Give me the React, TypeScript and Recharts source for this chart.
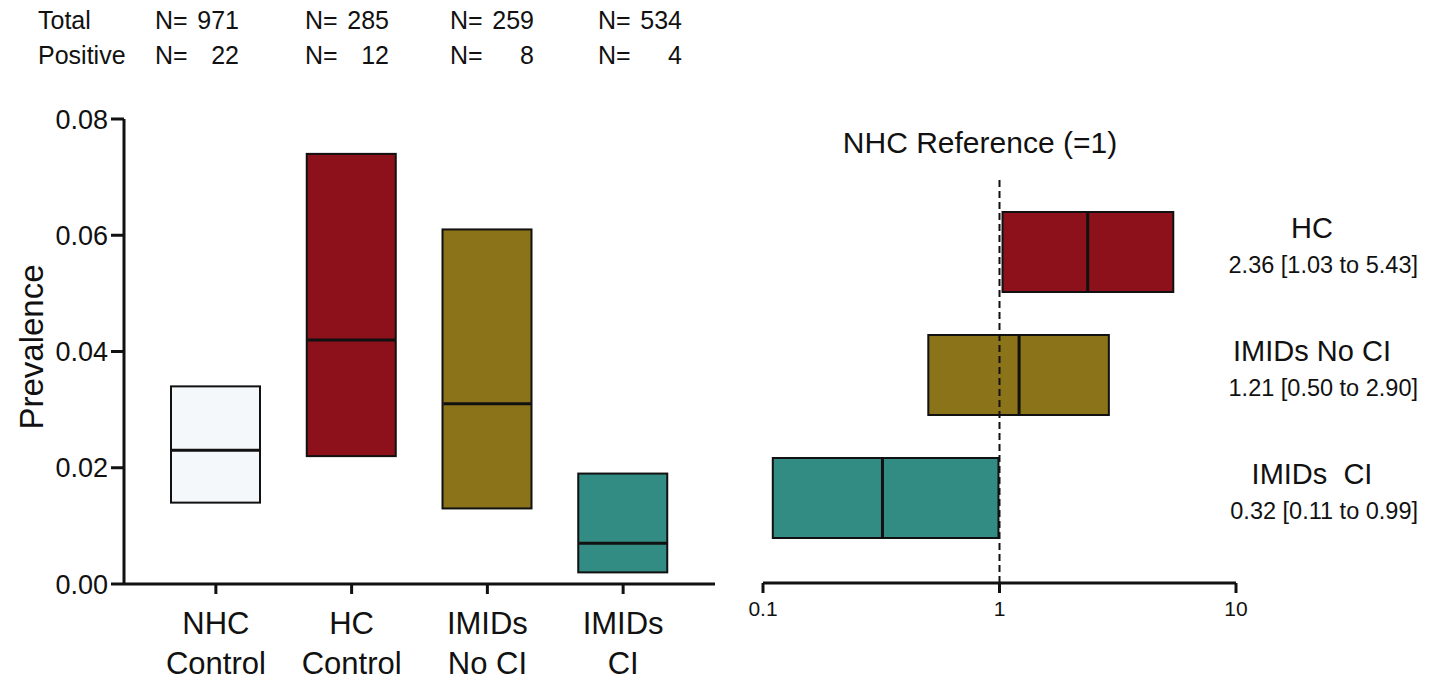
import React from 'react';
import { ComposedChart, Bar, Scatter, XAxis, YAxis, ReferenceLine, Cell } from 'recharts';

// left panel: prevalence per group (low / estimate / high)
const groups = ['NHC Control', 'HC Control', 'IMIDs No CI', 'IMIDs CI'];
const totalN = [971, 285, 259, 534];
const positiveN = [22, 12, 8, 4];
const prevLow = [0.014, 0.022, 0.013, 0.002];
const prevMedian = [0.023, 0.042, 0.031, 0.007];
const prevHigh = [0.034, 0.074, 0.061, 0.019];
const prevTicks = [0, 0.02, 0.04, 0.06, 0.08];

// right panel: odds ratios vs NHC reference
const orGroups = ['HC', 'IMIDs No CI', 'IMIDs  CI'];
const orMedian = [2.36, 1.21, 0.32];
const orLow = [1.03, 0.5, 0.11];
const orHigh = [5.43, 2.9, 0.99];
const orTicks = [0.1, 1, 10];

const FILLS = ['#F4F8FB', '#8C111A', '#8A7318', '#338C84'];
const INK = '#111';
const headerCols = [155, 305, 450, 598];

const prevData = groups.map((g, i) => ({
  group: g,
  range: [prevLow[i], prevHigh[i]],
  median: prevMedian[i],
}));

const orData = orGroups.map((g, i) => ({
  group: g,
  ci: [orLow[i], orHigh[i]],
  median: orMedian[i],
}));

const BoxShape = (props: any) => {
  const { x, y, width, height, fill } = props;
  return <rect x={x} y={y} width={width} height={height} fill={fill} stroke={INK} strokeWidth={2} />;
};

const HMedian = (props: any) => (
  <line x1={props.cx - 44} x2={props.cx + 44} y1={props.cy} y2={props.cy} stroke={INK} strokeWidth={3} />
);

const VMedian = (props: any) => (
  <line x1={props.cx} x2={props.cx} y1={props.cy - 40} y2={props.cy + 40} stroke={INK} strokeWidth={3} />
);

const GroupTick = (props: any) => {
  const { x, y, payload } = props;
  const [first, ...rest] = String(payload.value).split(' ');
  return (
    <g>
      <text x={x} y={y + 40} textAnchor="middle" fontSize={31} fill={INK}>{first}</text>
      <text x={x} y={y + 80} textAnchor="middle" fontSize={31} fill={INK}>{rest.join(' ')}</text>
    </g>
  );
};

const OrTick = (props: any) => {
  const { x, y, index, payload } = props;
  const i = index ?? orGroups.indexOf(payload.value);
  const ci = `${orMedian[i].toFixed(2)} [${orLow[i].toFixed(2)} to ${orHigh[i].toFixed(2)}]`;
  return (
    <g>
      <text x={x + 76} y={y - 14} textAnchor="middle" fontSize={29} fill={INK} style={{ whiteSpace: 'pre' }}>
        {payload.value}
      </text>
      <text x={x + 182} y={y + 21} textAnchor="end" fontSize={23.5} fill={INK}>{ci}</text>
    </g>
  );
};

export default function App() {
  return (
    <div
      style={{
        position: 'absolute',
        left: 0,
        top: 0,
        width: 1434,
        height: 685,
        background: '#fff',
        fontFamily: '"Liberation Sans", Arial, sans-serif',
      }}
    >
      <div style={{ position: 'absolute', left: 0, top: 0 }}>
        <ComposedChart width={730} height={685} data={prevData} margin={{ top: 119, right: 15, bottom: 11, left: 0 }}>
          <XAxis
            dataKey="group"
            height={90}
            padding={{ left: 24, right: 24 }}
            axisLine={{ stroke: INK, strokeWidth: 3 }}
            tickLine={{ stroke: INK, strokeWidth: 3 }}
            tickSize={10}
            tickMargin={0}
            tick={<GroupTick />}
            interval={0}
          />
          <YAxis
            type="number"
            width={124}
            domain={[0, 0.08]}
            ticks={prevTicks}
            tickFormatter={(v: number) => v.toFixed(2)}
            axisLine={{ stroke: INK, strokeWidth: 3 }}
            tickLine={{ stroke: INK, strokeWidth: 3 }}
            tickSize={13}
            tickMargin={3}
            tick={{ fontSize: 27, fill: INK }}
          />
          <Bar dataKey="range" barSize={89} shape={<BoxShape />} isAnimationActive={false}>
            {prevData.map((_, i) => (
              <Cell key={i} fill={FILLS[i]} />
            ))}
          </Bar>
          <Scatter dataKey="median" shape={<HMedian />} isAnimationActive={false} />
        </ComposedChart>
      </div>

      <div style={{ position: 'absolute', left: 720, top: 0 }}>
        <ComposedChart
          width={714}
          height={685}
          layout="vertical"
          data={orData}
          margin={{ top: 178, right: 0, bottom: 52, left: 43 }}
        >
          <XAxis
            type="number"
            scale="log"
            domain={[0.1, 10]}
            ticks={orTicks}
            allowDataOverflow
            height={50}
            axisLine={{ stroke: INK, strokeWidth: 3 }}
            tickLine={{ stroke: INK, strokeWidth: 3 }}
            tickSize={10}
            tickMargin={8}
            tick={{ fontSize: 21, fill: INK }}
          />
          <YAxis
            type="category"
            dataKey="group"
            orientation="right"
            width={198}
            padding={{ top: 12, bottom: 24 }}
            axisLine={false}
            tickLine={false}
            tickSize={0}
            tickMargin={0}
            tick={<OrTick />}
            interval={0}
          />
          <ReferenceLine x={1} stroke={INK} strokeWidth={2} strokeDasharray="7 4" />
          <Bar dataKey="ci" barSize={80} shape={<BoxShape />} isAnimationActive={false}>
            {orData.map((_, i) => (
              <Cell key={i} fill={FILLS[i + 1]} />
            ))}
          </Bar>
          <Scatter dataKey="median" shape={<VMedian />} isAnimationActive={false} />
        </ComposedChart>
      </div>

      <svg width={1434} height={685} style={{ position: 'absolute', left: 0, top: 0, pointerEvents: 'none' }}>
        <text x={38} y={29} fontSize={25} fill={INK}>Total</text>
        <text x={38} y={64} fontSize={25} fill={INK}>Positive</text>
        {headerCols.map((cx, i) => (
          <g key={i}>
            <text x={cx} y={29} fontSize={25} fill={INK}>N=</text>
            <text x={cx + 84} y={29} fontSize={25} fill={INK} textAnchor="end">{totalN[i]}</text>
            <text x={cx} y={64} fontSize={25} fill={INK}>N=</text>
            <text x={cx + 84} y={64} fontSize={25} fill={INK} textAnchor="end">{positiveN[i]}</text>
          </g>
        ))}
        <text x={31} y={347} fontSize={33} fill={INK} textAnchor="middle" dominantBaseline="central" transform="rotate(-90 31 347)">
          Prevalence
        </text>
        <text x={980} y={153} fontSize={30} fill={INK} textAnchor="middle">NHC Reference (=1)</text>
      </svg>
    </div>
  );
}
